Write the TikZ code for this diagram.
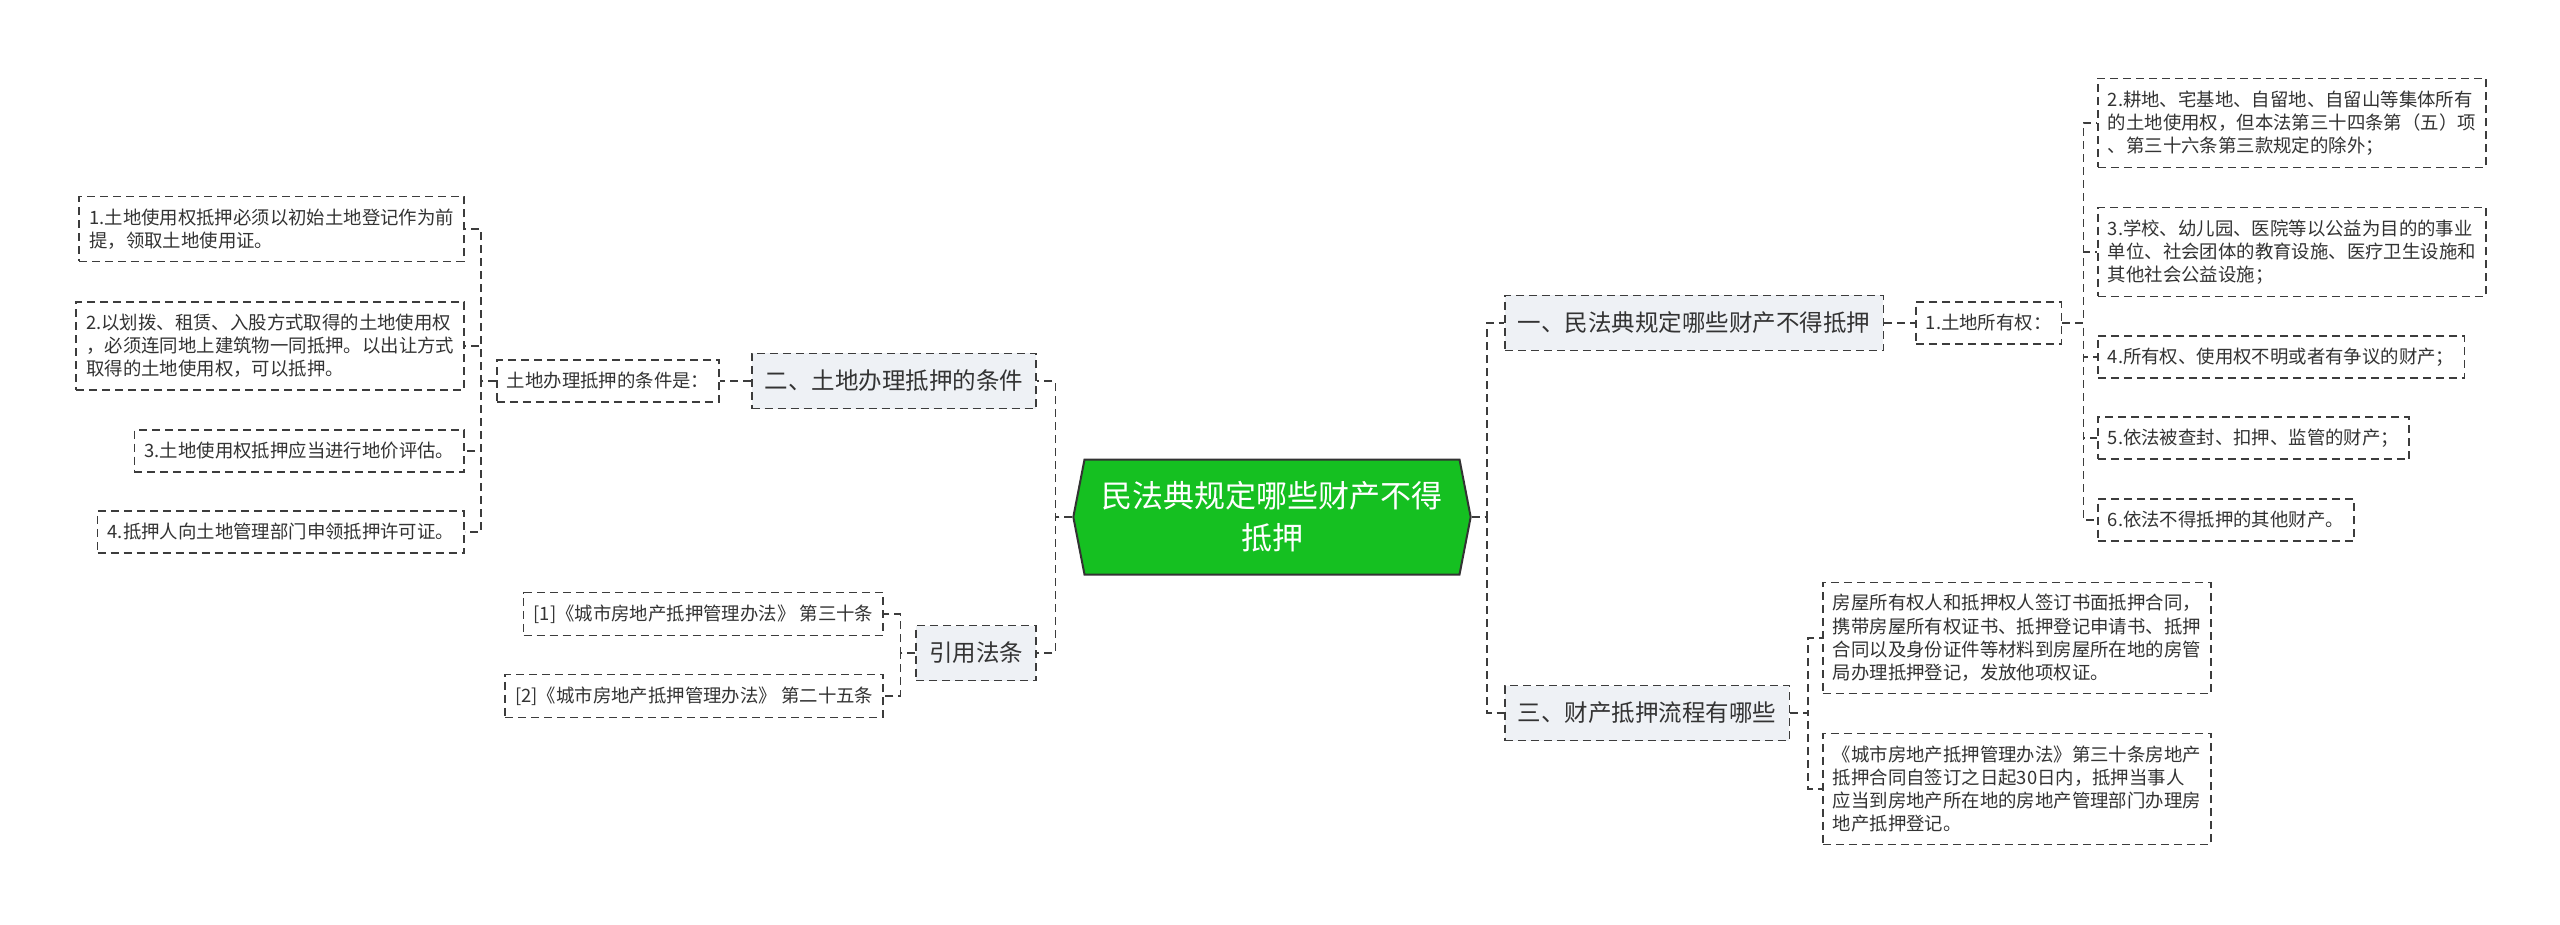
\documentclass[tikz,border=0pt]{standalone}
\usepackage{fontspec}
\setmainfont{Noto Sans CJK SC}
\usetikzlibrary{shapes.symbols}
\definecolor{rootgreen}{RGB}{21,192,33}
\definecolor{linegray}{RGB}{60,60,60}
\definecolor{boxgray}{RGB}{238,241,245}
\definecolor{textgray}{RGB}{51,51,51}

\begin{document}
\begin{tikzpicture}[x=0.5pt, y=-0.5pt,
    root/.style={signal, signal to=west and east, signal pointer angle=158, draw=textgray, line width=1pt, fill=rootgreen, text=white, font=\fontsize{15.5}{21}\selectfont, align=center, inner xsep=8.5pt, minimum height=57.5pt},
    topic/.style={draw=linegray, line width=0.8pt, dash pattern=on 4pt off 2.5pt, fill=boxgray, text=textgray, font=\fontsize{11.75}{14}\selectfont, inner xsep=6.5pt, minimum height=27.5pt},
    leaf/.style={draw=linegray, line width=0.8pt, dash pattern=on 4pt off 2.5pt, fill=white, text=textgray, font=\fontsize{9.2}{11.6}\selectfont, align=left, inner xsep=5pt, inner ysep=6pt, minimum height=21pt},
    link/.style={draw=linegray, line width=0.8pt, dash pattern=on 4pt off 2.5pt}
  ]
    \useasboundingbox (0,0) rectangle (2560,925);

    \node[root] (root) at (1272,517) {民法典规定哪些财产不得\\抵押};

    \node[topic, anchor=west] (yi) at (1504,323) {一、民法典规定哪些财产不得抵押};
    \node[leaf, anchor=west] (own1) at (1915,323) {1.土地所有权：};
    \node[leaf, anchor=west] (own2) at (2097,123) {2.耕地、宅基地、自留地、自留山等集体所有\\的土地使用权，但本法第三十四条第（五）项\\、第三十六条第三款规定的除外；};
    \node[leaf, anchor=west] (own3) at (2097,252) {3.学校、幼儿园、医院等以公益为目的的事业\\单位、社会团体的教育设施、医疗卫生设施和\\其他社会公益设施；};
    \node[leaf, anchor=west] (own4) at (2097,357) {4.所有权、使用权不明或者有争议的财产；};
    \node[leaf, anchor=west] (own5) at (2097,438) {5.依法被查封、扣押、监管的财产；};
    \node[leaf, anchor=west] (own6) at (2097,520) {6.依法不得抵押的其他财产。};

    \node[topic, anchor=west] (san) at (1504,713) {三、财产抵押流程有哪些};
    \node[leaf, anchor=west] (flowa) at (1822,638) {房屋所有权人和抵押权人签订书面抵押合同，\\携带房屋所有权证书、抵押登记申请书、抵押\\合同以及身份证件等材料到房屋所在地的房管\\局办理抵押登记，发放他项权证。};
    \node[leaf, anchor=west] (flowb) at (1822,789) {《城市房地产抵押管理办法》第三十条房地产\\抵押合同自签订之日起30日内，抵押当事人\\应当到房地产所在地的房地产管理部门办理房\\地产抵押登记。};

    \node[topic, anchor=east] (er) at (1037,381) {二、土地办理抵押的条件};
    \node[leaf, anchor=east] (cond) at (720,381) {土地办理抵押的条件是：};
    \node[leaf, anchor=east] (cond1) at (465,229) {1.土地使用权抵押必须以初始土地登记作为前\\提，领取土地使用证。};
    \node[leaf, anchor=east] (cond2) at (465,346) {2.以划拨、租赁、入股方式取得的土地使用权\\，必须连同地上建筑物一同抵押。以出让方式\\取得的土地使用权，可以抵押。};
    \node[leaf, anchor=east] (cond3) at (465,451) {3.土地使用权抵押应当进行地价评估。};
    \node[leaf, anchor=east] (cond4) at (465,532) {4.抵押人向土地管理部门申领抵押许可证。};

    \node[topic, anchor=east] (yinyong) at (1037,653) {引用法条};
    \node[leaf, anchor=east] (ref1) at (884,614) {[1]《城市房地产抵押管理办法》 第三十条};
    \node[leaf, anchor=east] (ref2) at (884,696) {[2]《城市房地产抵押管理办法》 第二十五条};

    \draw[link] (root.east) -- ++(15,0) |- (yi.west);
    \draw[link] (root.east) -- ++(15,0) |- (san.west);
    \draw[link] (root.west) -- ++(-17,0) |- (er.east);
    \draw[link] (root.west) -- ++(-17,0) |- (yinyong.east);
    \draw[link] (yi.east) -- (own1.west);
    \foreach \i in {2,...,6}
      \draw[link] (own1.east) -- ++(21,0) |- (own\i.west);
    \draw[link] (san.east) -- ++(18,0) |- (flowa.west);
    \draw[link] (san.east) -- ++(18,0) |- (flowb.west);
    \draw[link] (er.west) -- (cond.east);
    \foreach \i in {1,...,4}
      \draw[link] (cond.west) -- ++(-15,0) |- (cond\i.east);
    \draw[link] (yinyong.west) -- ++(-15,0) |- (ref1.east);
    \draw[link] (yinyong.west) -- ++(-15,0) |- (ref2.east);
  \end{tikzpicture}
\end{document}
